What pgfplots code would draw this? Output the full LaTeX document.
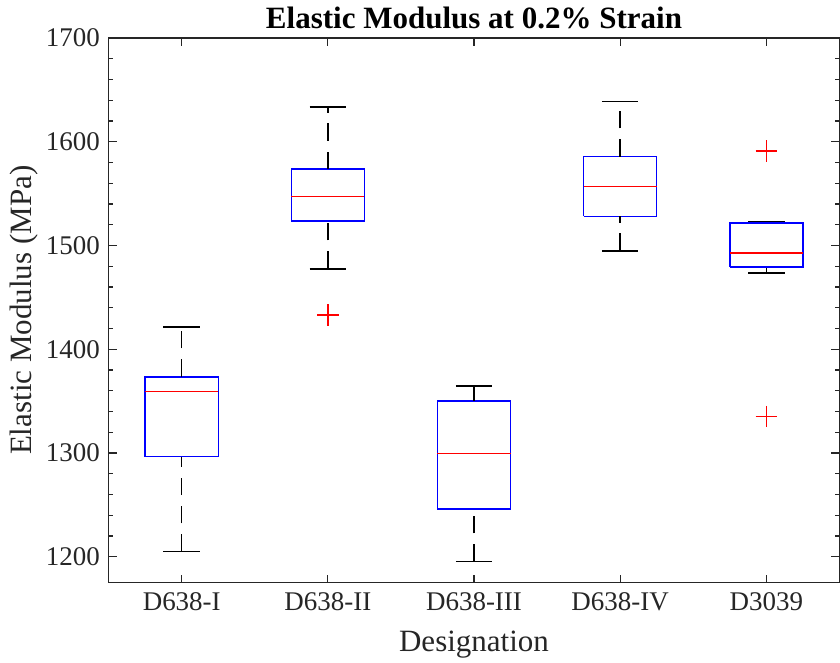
\documentclass[border=0pt]{standalone}
\usepackage{pgfplots}
\pgfplotsset{compat=1.18}
\usepackage{fontspec}
\setmainfont{Liberation Serif}
\definecolor{txt}{HTML}{262626}
\definecolor{mred}{HTML}{FF0000}
\definecolor{mblue}{HTML}{0000FF}
\pgfplotsset{
  mybox/.style={draw=mblue, line width=1.1pt, mark=none, solid},
  mymed/.style={draw=mred, line width=1.1pt, mark=none, solid},
  mywh/.style={draw=black, line width=1.1pt, mark=none, dash pattern=on 13pt off 8pt},
  mycap/.style={draw=black, line width=1.1pt, mark=none, solid},
  myout/.style={draw=mred, only marks, mark=+, mark size=8pt, mark options={draw=mred, line width=1.1pt, solid}},
}
\begin{document}
\begin{tikzpicture}
\begin{axis}[
  scale only axis,
  width=542pt, height=404pt,
  xmin=0.5, xmax=5.5, ymin=1175, ymax=1700,
  xtick={1,2,3,4,5},
  xticklabels={D638-I,D638-II,D638-III,D638-IV,D3039},
  ytick={1200,1300,1400,1500,1600,1700},
  minor y tick num=4,
  tick align=inside,
  major tick length=6pt, minor tick length=3pt,
  axis line style={txt, line width=0.9pt},
  every tick/.style={txt, line width=0.9pt},
  /pgf/number format/assume math mode=true,
  /pgf/number format/1000 sep={},
  tick label style={font=\fontsize{20}{24}\selectfont, text=txt},
  xticklabel style={yshift=-4pt},
  yticklabel style={xshift=-3pt},
  label style={font=\fontsize{23}{27}\selectfont, text=txt},
  title style={font=\fontsize{23}{27}\selectfont\bfseries, yshift=-3pt},
  title={Elastic Modulus at 0.2\% Strain},
  xlabel={Designation},
  ylabel={Elastic Modulus (MPa)},
  xlabel style={yshift=-8pt},
  ylabel style={yshift=-1pt},
]
% D638-I
\addplot[mybox] coordinates {(0.75,1296.5) (1.25,1296.5) (1.25,1373.4) (0.75,1373.4) (0.75,1296.5)};
\addplot[mymed] coordinates {(0.75,1359) (1.25,1359)};
\addplot[mywh] coordinates {(1,1204.8) (1,1296.5)};
\addplot[mywh] coordinates {(1,1373.4) (1,1421.5)};
\addplot[mycap] coordinates {(0.875,1204.8) (1.125,1204.8)};
\addplot[mycap] coordinates {(0.875,1421.5) (1.125,1421.5)};
% D638-II
\addplot[mybox] coordinates {(1.75,1523.7) (2.25,1523.7) (2.25,1573.5) (1.75,1573.5) (1.75,1523.7)};
\addplot[mymed] coordinates {(1.75,1547) (2.25,1547)};
\addplot[mywh] coordinates {(2,1477.5) (2,1523.7)};
\addplot[mywh] coordinates {(2,1573.5) (2,1633.5)};
\addplot[mycap] coordinates {(1.875,1477.5) (2.125,1477.5)};
\addplot[mycap] coordinates {(1.875,1633.5) (2.125,1633.5)};
\addplot[myout] coordinates {(2,1433)};
% D638-III
\addplot[mybox] coordinates {(2.75,1246.2) (3.25,1246.2) (3.25,1350) (2.75,1350) (2.75,1246.2)};
\addplot[mymed] coordinates {(2.75,1299.5) (3.25,1299.5)};
\addplot[mywh] coordinates {(3,1195.2) (3,1246.2)};
\addplot[mywh] coordinates {(3,1350) (3,1364.7)};
\addplot[mycap] coordinates {(2.875,1195.2) (3.125,1195.2)};
\addplot[mycap] coordinates {(2.875,1364.7) (3.125,1364.7)};
% D638-IV
\addplot[mybox] coordinates {(3.75,1528) (4.25,1528) (4.25,1585.5) (3.75,1585.5) (3.75,1528)};
\addplot[mymed] coordinates {(3.75,1556.8) (4.25,1556.8)};
\addplot[mywh] coordinates {(4,1494.8) (4,1528)};
\addplot[mywh] coordinates {(4,1585.5) (4,1638.5)};
\addplot[mycap] coordinates {(3.875,1494.8) (4.125,1494.8)};
\addplot[mycap] coordinates {(3.875,1638.5) (4.125,1638.5)};
% D3039
\addplot[mycap] coordinates {(4.875,1473.6) (5.125,1473.6)};
\addplot[mycap] coordinates {(4.875,1522.7) (5.125,1522.7)};
\addplot[mywh] coordinates {(5,1473.6) (5,1479.4)};
\addplot[mywh] coordinates {(5,1521.5) (5,1522.7)};
\addplot[mybox] coordinates {(4.75,1479.4) (5.25,1479.4) (5.25,1521.5) (4.75,1521.5) (4.75,1479.4)};
\addplot[mymed] coordinates {(4.75,1492.9) (5.25,1492.9)};
\addplot[myout] coordinates {(5,1591)};
\addplot[myout] coordinates {(5,1335)};
\end{axis}
\path ([xshift=-4pt]current bounding box.west);
\path ([yshift=2pt]current bounding box.north);
\end{tikzpicture}
\end{document}
